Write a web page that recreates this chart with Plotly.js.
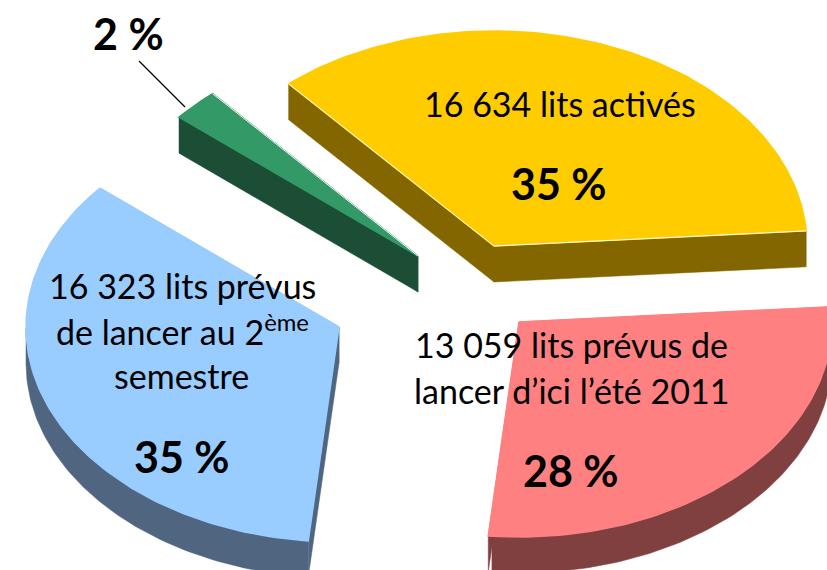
<!DOCTYPE html>
<html lang="fr">
<head>
<meta charset="utf-8">
<script src="https://cdn.plot.ly/plotly-3.0.1.min.js"></script>
<style>html,body{margin:0;padding:0;background:#fff}#chart{width:827px;height:570px}</style>
</head>
<body>
<div id="chart"></div>
<script>
// Data
const categories = ["Lits activés", "Prévus d'ici l'été 2011", "Prévus au 2ème semestre", "Autres"];
const bedCounts = [16634, 13059, 16323, 1150];
const percentLabels = ["35 %", "28 %", "35 %", "2 %"];

// Styles
const topColors = ["#FFCC00", "#FF8080", "#99CCFF", "#339966"];
const sideColors = ["#846600", "#804040", "#4F6580", "#1C4E36"];

// Exploded pie geometry (in the plot's pixel-sized axis units)
const startAngle = 131, radiusX = 313, radiusY = 215, depth = 36;
const centerX = [494, 519, 339, 418];
const centerY = [246, 322, 327, 256];

const total = bedCounts.reduce((a, b) => a + b, 0);
const rad = d => d * Math.PI / 180;
const ptX = (i, a) => centerX[i] + radiusX * Math.cos(rad(a));
const ptY = (i, a) => centerY[i] - radiusY * Math.sin(rad(a));

function poly(name, xs, ys, color, lw) {
  return {type: "scatter", mode: "lines", name, x: xs, y: ys, fill: "toself",
          fillcolor: color, line: {color: color, width: lw}, hoverinfo: "name", showlegend: false};
}
function arc(a0, a1) {
  const out = [], n = Math.max(2, Math.ceil(Math.abs(a0 - a1)));
  for (let k = 0; k <= n; k++) out.push(a0 + (a1 - a0) * k / n);
  return out;
}

const sideTraces = [], topTraces = [], edgeTraces = [];
let angle = startAngle;
bedCounts.forEach((v, i) => {
  const a0 = angle, a1 = angle - v / total * 360;
  angle = a1;
  [a0, a1].forEach(a => {
    const xe = ptX(i, a), ye = ptY(i, a);
    sideTraces.push(poly(categories[i], [centerX[i], xe, xe, centerX[i], centerX[i]],
      [centerY[i], ye, ye + depth, centerY[i] + depth, centerY[i]], sideColors[i], 0.5));
  });
  // rim: visible on the front half of the ellipse only (angles 180..360)
  const norm = a => ((a % 360) + 360) % 360;
  const front = [];
  for (let a = a0; a >= a1; a -= 1) { if (norm(a) >= 180) front.push(a); }
  if (front.length > 1) {
    const xs = front.map(a => ptX(i, a)), ys = front.map(a => ptY(i, a));
    sideTraces.push(poly(categories[i], xs.concat(xs.slice().reverse()),
      ys.concat(ys.slice().reverse().map(y => y + depth)), sideColors[i], 0.5));
  }
  const as = arc(a0, a1);
  topTraces.push(poly(categories[i], [centerX[i]].concat(as.map(a => ptX(i, a)), [centerX[i]]),
    [centerY[i]].concat(as.map(a => ptY(i, a)), [centerY[i]]), topColors[i], 1.5));
  if (i === 0 || i === 3) {
    const ex = i === 0 ? [ptX(i, a0), centerX[i], ptX(i, a1)] : [ptX(i, a1), centerX[i]];
    const ey = i === 0 ? [ptY(i, a0), centerY[i], ptY(i, a1)] : [ptY(i, a1), centerY[i]];
    edgeTraces.push({type: "scatter", mode: "lines", x: ex, y: ey, line: {color: "#ffffff", width: 1},
      hoverinfo: "skip", showlegend: false});
  }
});

const FONT = "Lato, Carlito, Calibri, sans-serif";
const note = (text, x, y, size, bold) => ({
  text: bold ? "<b>" + text + "</b>" : text, x, y, xref: "x", yref: "y", showarrow: false,
  xanchor: "center", yanchor: "middle", font: {family: FONT, size, color: "#000"}
});
const S = 34, B = 43;
const annotations = [
  note("16 634 lits activés", 560, 103, S),
  note(percentLabels[0], 559, 183, B, true),
  note("13 059 lits prévus de", 571, 344, S),
  note("lancer d’ici l’été 2011", 571, 390, S),
  note(percentLabels[1], 571, 470, B, true),
  note("16 323 lits prévus", 182, 285, S),
  note("de lancer au 2<sup>ème</sup>", 182, 330, S),
  note("semestre", 181, 375, S),
  note(percentLabels[2], 182, 456, B, true),
  note(percentLabels[3], 128, 33, B, true)
];

Plotly.newPlot("chart", sideTraces.concat(topTraces, edgeTraces), {
  width: 827, height: 570, margin: {l: 0, r: 0, t: 0, b: 0},
  paper_bgcolor: "#fff", plot_bgcolor: "#fff", showlegend: false,
  xaxis: {range: [0, 827], visible: false, fixedrange: true},
  yaxis: {range: [570, 0], visible: false, fixedrange: true},
  annotations,
  shapes: [{type: "line", xref: "x", yref: "y", x0: 139, y0: 61, x1: 185, y1: 107, line: {color: "#000", width: 1.25}}]
}, {displayModeBar: false, staticPlot: true});
</script>
</body>
</html>
